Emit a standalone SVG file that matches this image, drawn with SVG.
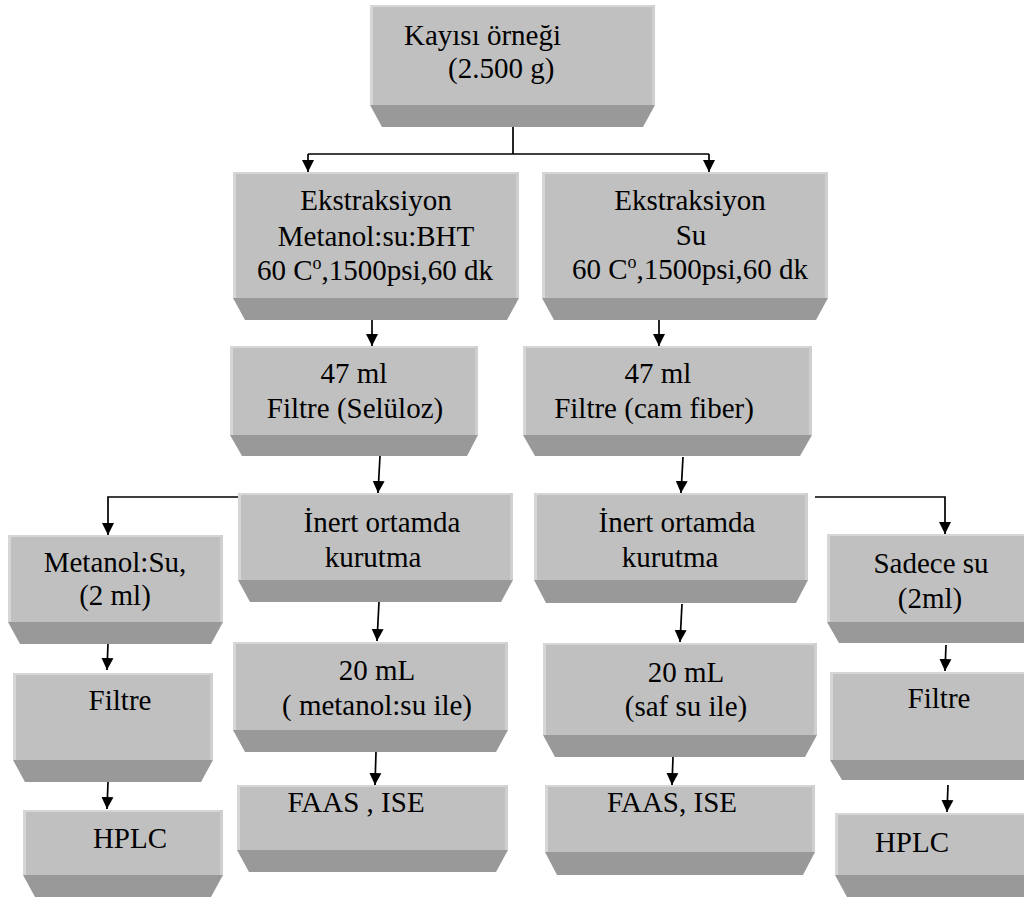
<svg xmlns="http://www.w3.org/2000/svg" width="1024" height="899" viewBox="0 0 1024 899">
  <style>
    .face { fill: #c0c0c0; }
    .hl { fill: #d6d6d6; }
    .side { fill: #cfcfcf; }
    .band { fill: #999999; }
    .lbl { font-family: "Liberation Serif", "Times New Roman", serif; font-size: 29px; fill: #000; }
    .mid { text-anchor: middle; }
    .wire { fill: none; stroke: #000; stroke-width: 1.7; }
    .sup { font-size: 18px; }
  </style>
  <defs>
    <marker id="arrow" viewBox="0 0 12 12" refX="12" refY="6" markerWidth="12" markerHeight="13" markerUnits="userSpaceOnUse" orient="auto">
      <path d="M0,0 L12,6 L0,12 Z" fill="#000"/>
    </marker>
  </defs>
  <rect width="1024" height="899" fill="#ffffff"/>

  <!-- connectors -->
  <g id="connectors" class="wire">
    <path d="M513,127 V154 M308,154 H709"/>
    <path d="M308,154 V172" marker-end="url(#arrow)"/>
    <path d="M709,154 V172" marker-end="url(#arrow)"/>
    <path d="M372,320 V346" marker-end="url(#arrow)"/>
    <path d="M659,320 V346" marker-end="url(#arrow)"/>
    <path d="M380,456 L378,493" marker-end="url(#arrow)"/>
    <path d="M683,457 L681,493" marker-end="url(#arrow)"/>
    <path d="M238,497 H108 V535" marker-end="url(#arrow)"/>
    <path d="M815,497 H945 V534" marker-end="url(#arrow)"/>
    <path d="M108,644 L107,670" marker-end="url(#arrow)"/>
    <path d="M108,782 L107,809" marker-end="url(#arrow)"/>
    <path d="M946,645 L945,671" marker-end="url(#arrow)"/>
    <path d="M948,785 L947,812" marker-end="url(#arrow)"/>
    <path d="M379,602 L377,641" marker-end="url(#arrow)"/>
    <path d="M682,604 L680,642" marker-end="url(#arrow)"/>
    <path d="M376,752 L375,785" marker-end="url(#arrow)"/>
    <path d="M673,757 L672,785" marker-end="url(#arrow)"/>
  </g>

  <!-- top sample -->
  <g id="n-sample">
    <rect class="face" x="370" y="5" width="285" height="100"/>
    <rect class="hl" x="370" y="5" width="285" height="2"/>
    <rect class="hl" x="370" y="5" width="3" height="100"/>
    <rect class="side" x="652" y="5" width="3" height="100"/>
    <polygon class="band" points="370,105 655,105 643,127 382,127"/>
    <text class="lbl" x="404" y="45">Kayısı örneği</text>
    <text class="lbl" x="448" y="78">(2.500 g)</text>
  </g>

  <!-- extraction, methanol branch -->
  <g id="n-ext-methanol">
    <rect class="face" x="233" y="172" width="286" height="126"/>
    <rect class="hl" x="233" y="172" width="286" height="2"/>
    <rect class="hl" x="233" y="172" width="3" height="126"/>
    <rect class="side" x="516" y="172" width="3" height="126"/>
    <polygon class="band" points="233,298 519,298 507,320 245,320"/>
    <text class="lbl mid" x="376" y="210">Ekstraksiyon</text>
    <text class="lbl mid" x="376" y="246">Metanol:su:BHT</text>
    <text class="lbl mid" x="375" y="280">60 C<tspan class="sup" dy="-11">o</tspan><tspan dy="11">,1500psi,60 dk</tspan></text>
  </g>

  <!-- extraction, water branch -->
  <g id="n-ext-water">
    <rect class="face" x="542" y="172" width="286" height="126"/>
    <rect class="hl" x="542" y="172" width="286" height="2"/>
    <rect class="hl" x="542" y="172" width="3" height="126"/>
    <rect class="side" x="825" y="172" width="3" height="126"/>
    <polygon class="band" points="542,298 828,298 816,320 554,320"/>
    <text class="lbl mid" x="690" y="210">Ekstraksiyon</text>
    <text class="lbl mid" x="691" y="245">Su</text>
    <text class="lbl mid" x="690" y="279">60 C<tspan class="sup" dy="-11">o</tspan><tspan dy="11">,1500psi,60 dk</tspan></text>
  </g>

  <!-- filtration -->
  <g id="n-filter-cellulose">
    <rect class="face" x="230" y="346" width="248" height="89"/>
    <rect class="hl" x="230" y="346" width="248" height="2"/>
    <rect class="hl" x="230" y="346" width="3" height="89"/>
    <rect class="side" x="475" y="346" width="3" height="89"/>
    <polygon class="band" points="230,435 478,435 467,456 242,456"/>
    <text class="lbl mid" x="354" y="383">47 ml</text>
    <text class="lbl mid" x="355" y="418">Filtre (Selüloz)</text>
  </g>

  <g id="n-filter-glass">
    <rect class="face" x="523" y="346" width="289" height="89"/>
    <rect class="hl" x="523" y="346" width="289" height="2"/>
    <rect class="hl" x="523" y="346" width="3" height="89"/>
    <rect class="side" x="809" y="346" width="3" height="89"/>
    <polygon class="band" points="523,435 812,435 800,456 535,456"/>
    <text class="lbl mid" x="658" y="383">47 ml</text>
    <text class="lbl mid" x="654" y="418">Filtre (cam fiber)</text>
  </g>

  <!-- drying under inert atmosphere -->
  <g id="n-dry-left">
    <rect class="face" x="238" y="493" width="275" height="87"/>
    <rect class="hl" x="238" y="493" width="275" height="2"/>
    <rect class="hl" x="238" y="493" width="3" height="87"/>
    <rect class="side" x="510" y="493" width="3" height="87"/>
    <polygon class="band" points="238,580 513,580 501,602 250,602"/>
    <text class="lbl mid" x="382" y="532">İnert ortamda</text>
    <text class="lbl mid" x="373" y="567">kurutma</text>
  </g>

  <g id="n-dry-right">
    <rect class="face" x="534" y="493" width="274" height="87"/>
    <rect class="hl" x="534" y="493" width="274" height="2"/>
    <rect class="hl" x="534" y="493" width="3" height="87"/>
    <rect class="side" x="805" y="493" width="3" height="87"/>
    <polygon class="band" points="534,580 808,580 796,603 546,603"/>
    <text class="lbl mid" x="677" y="532">İnert ortamda</text>
    <text class="lbl mid" x="670" y="567">kurutma</text>
  </g>

  <!-- left column: methanol/water -->
  <g id="n-meoh-water">
    <rect class="face" x="8" y="535" width="215" height="87"/>
    <rect class="hl" x="8" y="535" width="215" height="2"/>
    <rect class="hl" x="8" y="535" width="3" height="87"/>
    <rect class="side" x="220" y="535" width="3" height="87"/>
    <polygon class="band" points="8,622 223,622 211,644 20,644"/>
    <text class="lbl mid" x="115" y="572">Metanol:Su,</text>
    <text class="lbl mid" x="115" y="605">(2 ml)</text>
  </g>

  <g id="n-filter-l">
    <rect class="face" x="13" y="673" width="200" height="87"/>
    <rect class="hl" x="13" y="673" width="200" height="2"/>
    <rect class="hl" x="13" y="673" width="3" height="87"/>
    <rect class="side" x="210" y="673" width="3" height="87"/>
    <polygon class="band" points="13,760 213,760 201,782 25,782"/>
    <text class="lbl mid" x="120" y="710">Filtre</text>
  </g>

  <g id="n-hplc-l">
    <rect class="face" x="23" y="810" width="200" height="65"/>
    <rect class="hl" x="23" y="810" width="200" height="2"/>
    <rect class="hl" x="23" y="810" width="3" height="65"/>
    <rect class="side" x="220" y="810" width="3" height="65"/>
    <polygon class="band" points="23,875 223,875 211,897 35,897"/>
    <text class="lbl mid" x="130" y="848">HPLC</text>
  </g>

  <!-- right column: water only -->
  <g id="n-water-only">
    <rect class="face" x="827" y="534" width="213" height="88"/>
    <rect class="hl" x="827" y="534" width="213" height="2"/>
    <rect class="hl" x="827" y="534" width="3" height="88"/>
    <polygon class="band" points="827,622 1040,622 1040,643 839,643"/>
    <text class="lbl mid" x="931" y="573">Sadece su</text>
    <text class="lbl mid" x="930" y="608">(2ml)</text>
  </g>

  <g id="n-filter-r">
    <rect class="face" x="830" y="672" width="210" height="88"/>
    <rect class="hl" x="830" y="672" width="210" height="2"/>
    <rect class="hl" x="830" y="672" width="3" height="88"/>
    <polygon class="band" points="830,760 1040,760 1040,780 842,780"/>
    <text class="lbl mid" x="939" y="708">Filtre</text>
  </g>

  <g id="n-hplc-r">
    <rect class="face" x="835" y="813" width="205" height="62"/>
    <rect class="hl" x="835" y="813" width="205" height="2"/>
    <rect class="hl" x="835" y="813" width="3" height="62"/>
    <polygon class="band" points="835,875 1040,875 1040,897 847,897"/>
    <text class="lbl mid" x="912" y="852">HPLC</text>
  </g>

  <!-- reconstitution volumes -->
  <g id="n-20ml-meoh">
    <rect class="face" x="233" y="642" width="275" height="88"/>
    <rect class="hl" x="233" y="642" width="275" height="2"/>
    <rect class="hl" x="233" y="642" width="3" height="88"/>
    <rect class="side" x="505" y="642" width="3" height="88"/>
    <polygon class="band" points="233,730 508,730 496,752 245,752"/>
    <text class="lbl mid" x="377" y="680">20 mL</text>
    <text class="lbl mid" x="377" y="715">( metanol:su ile)</text>
  </g>

  <g id="n-20ml-water">
    <rect class="face" x="543" y="643" width="274" height="92"/>
    <rect class="hl" x="543" y="643" width="274" height="2"/>
    <rect class="hl" x="543" y="643" width="3" height="92"/>
    <rect class="side" x="814" y="643" width="3" height="92"/>
    <polygon class="band" points="543,735 817,735 805,757 555,757"/>
    <text class="lbl mid" x="686" y="682">20 mL</text>
    <text class="lbl mid" x="686" y="716">(saf su ile)</text>
  </g>

  <!-- analysis -->
  <g id="n-faas-l">
    <rect class="face" x="237" y="785" width="271" height="65"/>
    <rect class="hl" x="237" y="785" width="271" height="2"/>
    <rect class="hl" x="237" y="785" width="3" height="65"/>
    <rect class="side" x="505" y="785" width="3" height="65"/>
    <polygon class="band" points="237,850 508,850 496,872 249,872"/>
    <text class="lbl mid" x="356" y="812">FAAS , ISE</text>
  </g>

  <g id="n-faas-r">
    <rect class="face" x="545" y="785" width="270" height="67"/>
    <rect class="hl" x="545" y="785" width="270" height="2"/>
    <rect class="hl" x="545" y="785" width="3" height="67"/>
    <rect class="side" x="812" y="785" width="3" height="67"/>
    <polygon class="band" points="545,852 815,852 803,875 557,875"/>
    <text class="lbl mid" x="672" y="812">FAAS, ISE</text>
  </g>
</svg>
